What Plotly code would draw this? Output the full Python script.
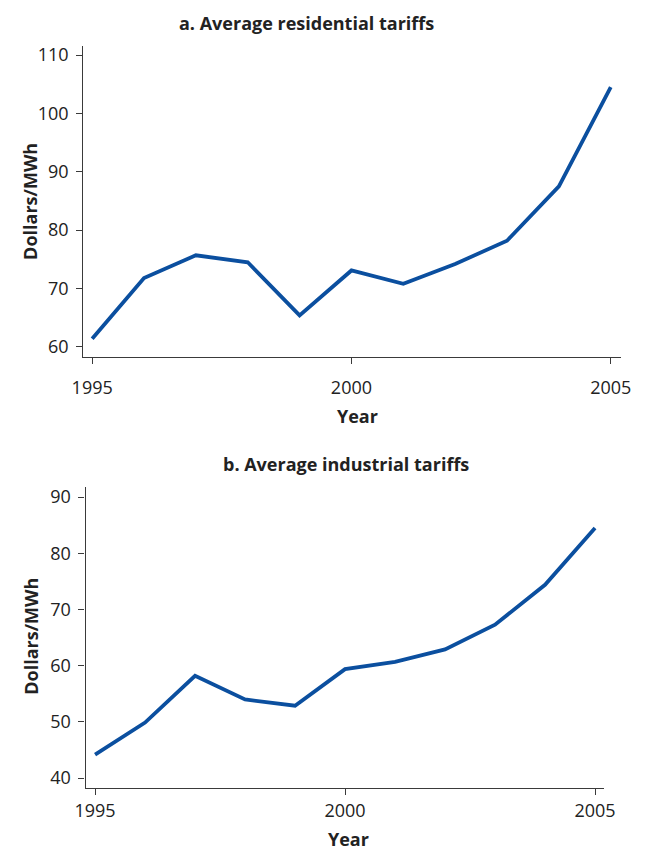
import plotly.graph_objects as go
from plotly.subplots import make_subplots

# Average electricity tariffs, dollars per MWh
years = [1995, 1996, 1997, 1998, 1999, 2000, 2001, 2002, 2003, 2004, 2005]
residential = [61.4, 71.8, 75.7, 74.5, 65.4, 73.1, 70.8, 74.2, 78.2, 87.5, 104.5]
industrial = [44.2, 49.9, 58.2, 54.0, 52.9, 59.4, 60.7, 62.9, 67.3, 74.4, 84.5]

panel_titles = ["a. Average residential tariffs", "b. Average industrial tariffs"]
x_ticks = [1995, 2000, 2005]
res_ticks = [60, 70, 80, 90, 100, 110]
ind_ticks = [40, 50, 60, 70, 80, 90]

W, H = 649, 852
LINE = "#0b4f9f"
AXIS = "#3a3a3a"
FONT = "Open Sans"

fig = make_subplots(rows=2, cols=1)
fig.add_trace(go.Scatter(x=years, y=residential, mode="lines",
                         line=dict(color=LINE, width=3.8), showlegend=False), row=1, col=1)
fig.add_trace(go.Scatter(x=years, y=industrial, mode="lines",
                         line=dict(color=LINE, width=3.8), showlegend=False), row=2, col=1)

axis_common = dict(showgrid=False, zeroline=False, showline=True, linecolor=AXIS,
                   linewidth=1.3, ticks="outside", ticklen=6, tickwidth=1.2,
                   tickcolor=AXIS, tickfont=dict(family=FONT, size=18, color="#222"))

def px_x(a, b):
    return [a / W, b / W]

def px_y(top, bottom):
    return [1 - bottom / H, 1 - top / H]

fig.update_layout(
    xaxis=dict(domain=px_x(75, 632), range=[1994.83, 2005.19], tickvals=x_ticks,
               ticklabelstandoff=9, **axis_common),
    yaxis=dict(domain=px_y(42.7, 355), range=[58.35, 111.5], tickvals=res_ticks,
               ticklabelstandoff=4, **axis_common),
    xaxis2=dict(domain=px_x(77.3, 614.3), range=[1994.81, 2005.17], tickvals=x_ticks,
                ticklabelstandoff=1, **axis_common),
    yaxis2=dict(domain=px_y(486.7, 789.3), range=[38.3, 91.75], tickvals=ind_ticks,
                ticklabelstandoff=4, **axis_common),
    width=W, height=H, margin=dict(l=0, r=0, t=0, b=0),
    plot_bgcolor="white", paper_bgcolor="white",
)

def add_text(text, x, y, size=18, angle=0):
    fig.add_annotation(text=f"<b>{text}</b>", x=x / W, y=1 - y / H, xref="paper", yref="paper",
                       showarrow=False, textangle=angle, xanchor="center", yanchor="middle",
                       font=dict(family=FONT, size=size, color="#222"))

add_text(panel_titles[0], 306, 19)
add_text(panel_titles[1], 347, 463)
add_text("Year", 359, 415)
add_text("Year", 350, 841)
add_text("Dollars/MWh", 19, 199, angle=-90)
add_text("Dollars/MWh", 20, 637, angle=-90)

fig.write_html("out.html")
